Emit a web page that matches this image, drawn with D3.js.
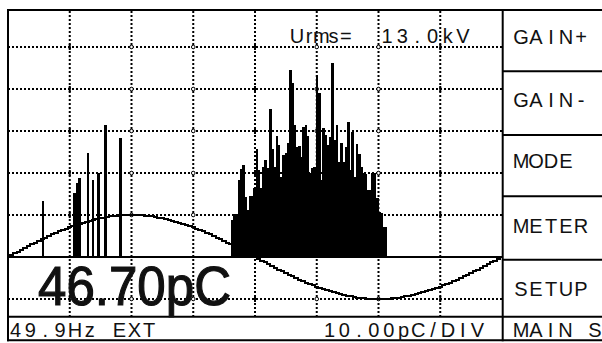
<!DOCTYPE html>
<html>
<head>
<meta charset="utf-8">
<script src="https://cdn.jsdelivr.net/npm/d3@7"></script>
<style>
html, body { margin: 0; padding: 0; background: #fff; }
svg { display: block; }
text { font-family: "Liberation Sans", Arial, sans-serif; fill: #111; }
</style>
</head>
<body>
<svg id="chart" width="602" height="343"></svg>
<script>
// phase resolved PD picture, 10 pC per division, one mains period across
const binDeg = 1.625;
const clusterStart = 162.5;
const clusterValues = [
    8.8, 10.2, 10.2, 18.3, 21.0, 21.9, 14.4, 11.2, 14.5, 14.5,
    16.4, 25.7, 20.7, 16.4, 21.5, 23.1, 21.2, 35.2, 25.7, 21.4,
    28.8, 26.7, 19.1, 24.3, 24.8, 27.2, 44.5, 41.4, 31.4, 26.2,
    26.4, 23.9, 30.9, 31.4, 28.8, 20.1, 21.1, 21.5, 43.3, 39.0,
    18.3, 30.6, 29.0, 26.7, 28.5, 46.3, 27.9, 31.4, 22.7, 27.1,
    22.7, 26.3, 32.2, 20.7, 29.8, 19.1, 26.9, 24.5, 21.5, 19.9,
    19.8, 16.0, 16.0, 19.9, 19.9, 14.0, 10.8, 10.4, 7.2, 7.2
];
const pulsePhases = [24.5, 47.6, 49.3, 51.0, 57.3, 60.9, 65.2, 70.0, 80.9];
const pulseValues = [13.3, 15.2, 17.6, 18.8, 24.7, 18.3, 20.0, 31.4, 28.3];

const gridDeg = [45, 90, 135, 180, 225, 270, 315];
const gridPc = [50, 40, 30, 20, 10, -10];
const tickDeg = [45, 180, 315];
const sineAmp = 10; // reference voltage drawn one division high

const buttons = ["GAIN+", "GAIN-", "MODE", "METER", "SETUP"];
const urmsLabel = "Urms=";
const urmsValue = "13.0kV";
const reading = "46.70pC";
const statusLeft = "49.9Hz EXT";
const statusRight = "10.00pC/DIV";
const statusMenu = "MAIN S";

// screen layout
const plotLeft = 8, plotRight = 502.7, plotTop = 10, zeroY = 257, barY = 316.7, plotBottom = 340.3;
const buttonLines = [71.3, 135, 196.3, 259.7];
const buttonBase = [44, 107, 168, 233, 296];

const svg = d3.select("#chart");

const x = d3.scaleLinear().domain([0, 360]).range([plotLeft, 502]);
const y = d3.scaleLinear().domain([0, 10]).range([zeroY, zeroY - 42]);

// dotted grid
svg.append("g").selectAll("line")
    .data(gridDeg)
    .join("line")
    .attr("x1", d => x(d)).attr("x2", d => x(d))
    .attr("y1", plotTop + 1).attr("y2", barY)
    .attr("stroke", "#000")
    .attr("stroke-width", 2)
    .attr("stroke-dasharray", "2,2");

svg.append("g").selectAll("line")
    .data(gridPc)
    .join("line")
    .attr("x1", plotLeft).attr("x2", plotRight)
    .attr("y1", d => y(d)).attr("y2", d => y(d))
    .attr("stroke", "#000")
    .attr("stroke-width", 2)
    .attr("stroke-dasharray", "2,2");

// little marks where grid lines cross
let crossings = [];
gridPc.forEach(v => gridDeg.forEach(p => crossings.push({ p: p, v: v })));
svg.append("g").selectAll("line")
    .data(crossings.filter(d => tickDeg.includes(d.p)))
    .join("line")
    .attr("x1", d => x(d.p)).attr("x2", d => x(d.p))
    .attr("y1", d => y(d.v) - 3).attr("y2", d => y(d.v) + 3)
    .attr("stroke", "#000")
    .attr("stroke-width", 2);
svg.append("g").selectAll("circle")
    .data(crossings.filter(d => !tickDeg.includes(d.p)))
    .join("circle")
    .attr("cx", d => x(d.p)).attr("cy", d => y(d.v))
    .attr("r", 1.8)
    .attr("fill", "#fff")
    .attr("stroke", "#000")
    .attr("stroke-width", 1);

// pulses
const barW = x(binDeg) - x(0);
const bars = clusterValues.map((v, i) => ({ p: clusterStart + i * binDeg, v: v }))
    .concat(pulsePhases.map((p, i) => ({ p: p, v: pulseValues[i] })));

svg.append("g").selectAll("rect")
    .data(bars)
    .join("rect")
    .attr("x", d => x(d.p))
    .attr("y", d => y(d.v))
    .attr("width", barW + 0.4)
    .attr("height", d => y(0) - y(d.v))
    .attr("fill", "#000")
    .attr("shape-rendering", "crispEdges");

// reference sine
const sine = d3.range(0, 360.1, 2.5).map(p => ({ p: p, v: sineAmp * Math.sin(p * Math.PI / 180) }));
svg.append("path")
    .datum(sine)
    .attr("d", d3.line().x(d => x(d.p)).y(d => Math.round(y(d.v))).curve(d3.curveStep))
    .attr("fill", "none")
    .attr("stroke", "#000")
    .attr("stroke-width", 2)
    .attr("shape-rendering", "crispEdges");

// zero line
svg.append("line")
    .attr("x1", plotLeft).attr("x2", plotRight)
    .attr("y1", y(0)).attr("y2", y(0))
    .attr("stroke", "#000").attr("stroke-width", 2);

// frame
const frame = svg.append("g").attr("stroke", "#000").attr("stroke-width", 2);
frame.append("line").attr("x1", plotLeft - 1).attr("x2", 602).attr("y1", plotTop).attr("y2", plotTop);
frame.append("line").attr("x1", plotLeft).attr("x2", plotLeft).attr("y1", plotTop - 1).attr("y2", plotBottom + 1);
frame.append("line").attr("x1", plotLeft - 1).attr("x2", 602).attr("y1", plotBottom).attr("y2", plotBottom);
frame.append("line").attr("x1", plotLeft - 1).attr("x2", 602).attr("y1", barY).attr("y2", barY);
frame.append("line").attr("x1", plotRight).attr("x2", plotRight).attr("y1", plotTop - 1).attr("y2", plotBottom + 1);
frame.selectAll(".btn")
    .data(buttonLines)
    .join("line")
    .attr("class", "btn")
    .attr("x1", plotRight).attr("x2", 602)
    .attr("y1", d => d).attr("y2", d => d);

// text laid out on a character cell grid like the instrument's LCD
function cells(str, x0, y0, cell, size) {
    let t = svg.append("text")
        .attr("y", y0)
        .attr("font-size", size)
        .attr("text-anchor", "middle");
    t.selectAll("tspan")
        .data(str.split("").map((c, i) => ({ c: c, i: i })).filter(d => d.c !== " "))
        .join("tspan")
        .attr("x", d => x0 + d.i * cell)
        .text(d => d.c);
    return t;
}

cells(urmsLabel, 297, 43, 12.2, 20);
cells(urmsValue, 387, 43, 15.2, 20);

buttons.forEach((b, i) => cells(b, 521, buttonBase[i], 15, 20));

cells(statusLeft, 15.5, 337, 14.85, 20);
cells(statusRight, 329.5, 337, 14.8, 20);
cells(statusMenu, 521, 337, 14.8, 20);

// big charge reading, heavier strokes like the LCD font
svg.append("text")
    .attr("x", 38)
    .attr("y", 305)
    .attr("font-size", 56)
    .attr("textLength", 193)
    .attr("lengthAdjust", "spacingAndGlyphs")
    .attr("stroke", "#111")
    .attr("stroke-width", 1.2)
    .text(reading);
</script>
</body>
</html>
